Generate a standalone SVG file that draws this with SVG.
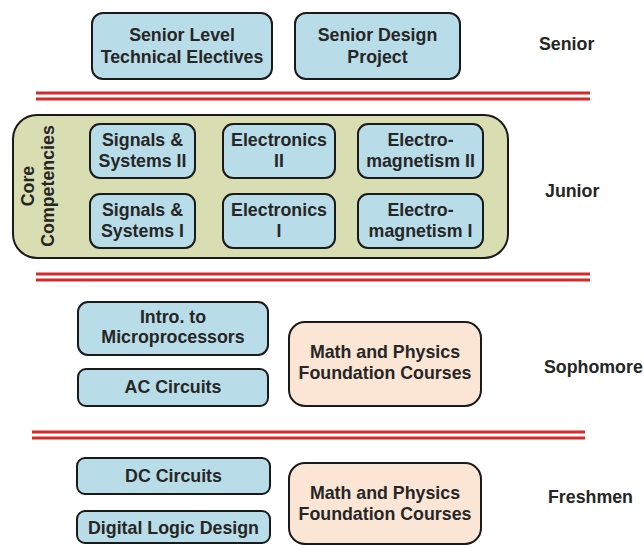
<svg xmlns="http://www.w3.org/2000/svg" width="644" height="546" viewBox="0 0 644 546">
<style>
text{font-family:"Liberation Sans",Arial,sans-serif;font-weight:bold;font-size:17.8px;fill:#262626;text-anchor:middle}
.lbl{text-anchor:start}
.blue{fill:#b9dde8;stroke:#1a1a1a;stroke-width:2}
.peach{fill:#fbe5d5;stroke:#1a1a1a;stroke-width:2}
.olive{fill:#d8deb2;stroke:#1a1a1a;stroke-width:2}
.red{stroke:#d42a2a;stroke-width:3.2;fill:none}
</style>
<rect width="644" height="546" fill="#ffffff"/>

<g id="separators">
<line class="red" x1="36" y1="93" x2="590" y2="93"/>
<line class="red" x1="36" y1="99" x2="590" y2="99"/>
<line class="red" x1="36" y1="274" x2="590" y2="274"/>
<line class="red" x1="36" y1="280" x2="590" y2="280"/>
<line class="red" x1="32" y1="432" x2="585" y2="432"/>
<line class="red" x1="32" y1="438" x2="585" y2="438"/>
</g>

<g id="senior-electives"><rect class="blue" x="92" y="13" width="180" height="66" rx="11"/><text x="182" y="41">Senior Level</text><text x="182" y="63">Technical Electives</text></g>
<g id="senior-design"><rect class="blue" x="295" y="13" width="165" height="66" rx="11"/><text x="377.5" y="41">Senior Design</text><text x="377.5" y="63">Project</text></g>
<g id="label-senior"><text class="lbl" x="539" y="50">Senior</text></g>

<g id="core"><rect class="olive" x="13" y="115" width="495" height="143" rx="24"/>
<text transform="translate(34,186) rotate(-90)">Core</text>
<text transform="translate(54,186) rotate(-90)">Competencies</text></g>
<g id="ss2"><rect class="blue" x="90" y="124" width="105" height="54" rx="10"/><text x="142.5" y="146">Signals &amp;</text><text x="142.5" y="167">Systems II</text></g>
<g id="el2"><rect class="blue" x="223" y="124" width="112" height="54" rx="10"/><text x="279" y="146">Electronics</text><text x="279" y="167">II</text></g>
<g id="em2"><rect class="blue" x="358" y="124" width="125" height="54" rx="10"/><text x="420.5" y="146">Electro-</text><text x="420.5" y="167">magnetism II</text></g>
<g id="ss1"><rect class="blue" x="90" y="194" width="105" height="54" rx="10"/><text x="142.5" y="216">Signals &amp;</text><text x="142.5" y="237">Systems I</text></g>
<g id="el1"><rect class="blue" x="223" y="194" width="112" height="54" rx="10"/><text x="279" y="216">Electronics</text><text x="279" y="237">I</text></g>
<g id="em1"><rect class="blue" x="358" y="194" width="125" height="54" rx="10"/><text x="420.5" y="216">Electro-</text><text x="420.5" y="237">magnetism I</text></g>
<g id="label-junior"><text class="lbl" x="545" y="197">Junior</text></g>

<g id="micro"><rect class="blue" x="78" y="302" width="190" height="53" rx="10"/><text x="173" y="323">Intro. to</text><text x="173" y="343">Microprocessors</text></g>
<g id="ac"><rect class="blue" x="78" y="369" width="190" height="37" rx="8"/><text x="173" y="393">AC Circuits</text></g>
<g id="math-soph"><rect class="peach" x="289" y="322" width="192" height="84" rx="16"/><text x="385" y="358">Math and Physics</text><text x="385" y="379">Foundation Courses</text></g>
<g id="label-sophomore"><text class="lbl" x="544" y="373">Sophomore</text></g>

<g id="dc"><rect class="blue" x="77" y="458" width="193" height="36" rx="8"/><text x="173.5" y="482">DC Circuits</text></g>
<g id="dld"><rect class="blue" x="77" y="511" width="193" height="32" rx="8"/><text x="173.5" y="534">Digital Logic Design</text></g>
<g id="math-fresh"><rect class="peach" x="289" y="463" width="192" height="81" rx="16"/><text x="385" y="499">Math and Physics</text><text x="385" y="520">Foundation Courses</text></g>
<g id="label-freshmen"><text class="lbl" x="548" y="503">Freshmen</text></g>
</svg>
